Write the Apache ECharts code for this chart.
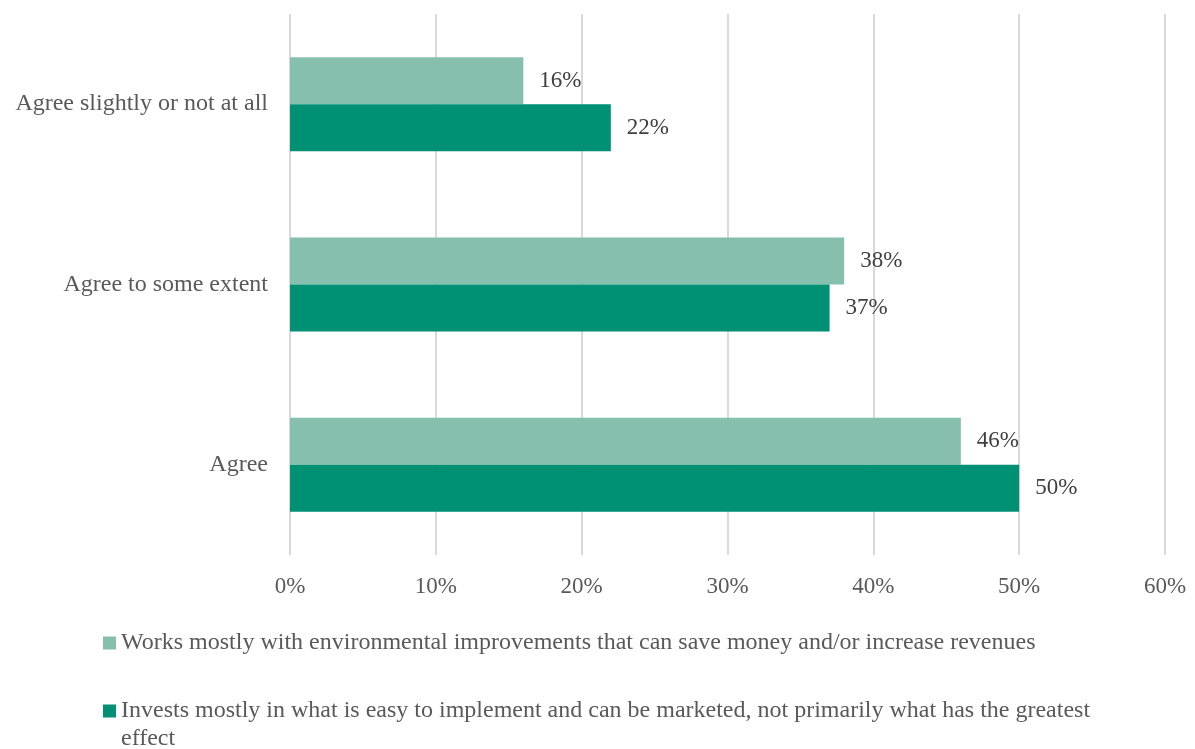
<!DOCTYPE html>
<html>
<head>
<meta charset="utf-8">
<script src="https://cdn.jsdelivr.net/npm/echarts@6/dist/echarts.min.js"></script>
<style>
  html, body { margin: 0; padding: 0; background: #fff; }
  #chart { width: 1195px; height: 749px; }
</style>
</head>
<body>
<div id="chart"></div>
<script>
// Categories listed bottom to top along the vertical axis
const categories = ['Agree', 'Agree to some extent', 'Agree slightly or not at all'];
const seriesNames = [
  'Works mostly with environmental improvements that can save money and/or increase revenues',
  'Invests mostly in what is easy to implement and can be marketed, not primarily what has the greatest effect'
];
const worksMostlyValues = [46, 38, 16];
const investsMostlyValues = [50, 37, 22];
const xTicks = { min: 0, max: 60, interval: 10 };

const FONT = '"Liberation Serif", "DejaVu Serif", serif';
const chart = echarts.init(document.getElementById('chart'));

const labelStyle = {
  show: true,
  position: 'right',
  distance: 16,
  formatter: p => p.value + '%',
  color: '#404040',
  fontFamily: FONT,
  fontSize: 23
};

// Square marker sitting at the top of a tall box, so it lines up with
// the first line of a wrapped legend label.
const topSquareIcon = 'path://M0,0h13v13h-13z M0,40.9h0.1v0.1h-0.1z';

chart.setOption({
  animation: false,
  textStyle: { fontFamily: FONT },
  grid: { left: 290, right: 30, top: 14, bottom: 194, containLabel: false },
  xAxis: {
    type: 'value',
    min: xTicks.min,
    max: xTicks.max,
    interval: xTicks.interval,
    axisLine: { show: false },
    axisTick: { show: false },
    axisLabel: {
      formatter: '{value}%',
      color: '#595959',
      fontFamily: FONT,
      fontSize: 23,
      margin: 20
    },
    splitLine: { lineStyle: { color: '#d9d9d9', width: 2 } }
  },
  yAxis: {
    type: 'category',
    data: categories,
    axisLine: { show: false },
    axisTick: { show: false },
    axisLabel: {
      color: '#595959',
      fontFamily: FONT,
      fontSize: 24,
      margin: 22
    }
  },
  legend: [
    {
      data: [seriesNames[0]],
      left: 103,
      top: 631,
      padding: 0,
      itemWidth: 13,
      itemHeight: 13,
      icon: 'rect',
      textStyle: { color: '#595959', fontFamily: FONT, fontSize: 24 }
    },
    {
      data: [seriesNames[1]],
      left: 103,
      top: 697,
      padding: 0,
      itemWidth: 13,
      itemHeight: 41,
      icon: topSquareIcon,
      textStyle: {
        color: '#595959', fontFamily: FONT, fontSize: 24,
        width: 1000, overflow: 'break', lineHeight: 28
      }
    }
  ],
  series: [
    {
      name: seriesNames[0],
      type: 'bar',
      data: worksMostlyValues,
      barWidth: 47,
      barGap: '0%',
      itemStyle: { color: '#86bfad' },
      label: labelStyle
    },
    {
      name: seriesNames[1],
      type: 'bar',
      data: investsMostlyValues,
      barWidth: 47,
      barGap: '0%',
      itemStyle: { color: '#009174' },
      label: labelStyle
    }
  ]
});
</script>
</body>
</html>
